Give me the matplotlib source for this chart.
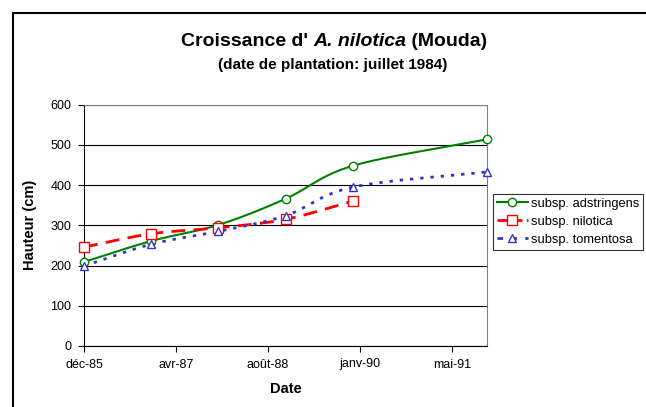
import datetime as dt
import numpy as np
import matplotlib
matplotlib.use("Agg")
import matplotlib.pyplot as plt
import matplotlib.dates as mdates
from matplotlib.patches import Rectangle

plt.rcParams['font.family'] = ['Liberation Sans', 'DejaVu Sans']

dates_adstr = ["1985-12-01", "1986-12-01", "1987-12-01", "1988-12-01", "1989-12-01", "1991-12-01"]
adstringens = [209, 261, 301, 366, 448, 514]

dates_nilo = ["1985-12-01", "1986-12-01", "1987-12-01", "1988-12-01", "1989-12-01"]
nilotica = [246, 279, 294, 315, 360]

dates_tomen = ["1985-12-01", "1986-12-01", "1987-12-01", "1988-12-01", "1989-12-01", "1991-12-01"]
tomentosa = [199, 253, 285, 324, 395, 433]

tick_labels = ["déc-85", "avr-87", "août-88", "janv-90", "mai-91"]
tick_step_days = 500


def to_num(ds):
    return mdates.date2num([dt.datetime.strptime(d, "%Y-%m-%d") for d in ds])


def smooth(x, y, n=30):
    # Catmull-Rom style smoothing like Excel's "smoothed line"
    x = np.asarray(x, float)
    y = np.asarray(y, float)
    px = np.concatenate([[2 * x[0] - x[1]], x, [2 * x[-1] - x[-2]]])
    py = np.concatenate([[2 * y[0] - y[1]], y, [2 * y[-1] - y[-2]]])
    xs, ys = [], []
    t = np.linspace(0, 1, n)
    for i in range(1, len(px) - 2):
        for p, out in ((px, xs), (py, ys)):
            p0, p1, p2, p3 = p[i - 1], p[i], p[i + 1], p[i + 2]
            out.extend(0.5 * ((2 * p1) + (-p0 + p2) * t
                              + (2 * p0 - 5 * p1 + 4 * p2 - p3) * t ** 2
                              + (-p0 + 3 * p1 - 3 * p2 + p3) * t ** 3))
    return np.array(xs), np.array(ys)


fig = plt.figure(figsize=(6.46, 4.07), dpi=100)
ax = fig.add_axes([84 / 646, 1 - 346 / 407, (487 - 84) / 646, (346 - 104.7) / 407])

series = [
    (dates_adstr, adstringens, "subsp. adstringens", "#008000", "-", "o", 6),
    (dates_nilo, nilotica, "subsp. nilotica", "#FF0000", "--", "s", 7),
    (dates_tomen, tomentosa, "subsp. tomentosa", "#3333CC", ":", "^", 6),
]
for ds, vals, lab, col, ls, mk, ms in series:
    xn = to_num(ds)
    sx, sy = smooth(xn, vals)
    lw = 1.5 if ls == "-" else 2
    line, = ax.plot(sx, sy, color=col, ls=ls, lw=lw, zorder=3, clip_on=False)
    if ls == "--":
        line.set_dashes([5, 3])
    if ls == ":":
        line.set_dashes([1.2, 2.5])
    ax.plot(xn, vals, ls="none", marker=mk, ms=ms, mfc="white", mec=col, mew=1,
            zorder=4, clip_on=False)
    # legend proxy
    h, = ax.plot([], [], color=col, ls=ls, lw=lw, marker=mk, ms=ms, mfc="white", mec=col,
                 mew=1, label=lab)
    if ls == ":":
        h.set_dashes([2, 3])

start = to_num(["1985-12-01"])[0]
end = to_num(["1991-12-01"])[0]
ax.set_xlim(start, end)
ax.set_xticks([start + tick_step_days * i for i in range(len(tick_labels))])
ax.set_xticklabels(tick_labels)
ax.set_ylim(0, 600)
ax.set_yticks(range(0, 601, 100))

ax.yaxis.grid(True, color="black", lw=0.8)
ax.set_axisbelow(True)
for s in ("top", "right"):
    ax.spines[s].set_color("#808080")
    ax.spines[s].set_linewidth(0.8)
for s in ("left", "bottom"):
    ax.spines[s].set_color("black")
    ax.spines[s].set_linewidth(0.8)
ax.tick_params(axis="both", direction="out", length=4, width=0.8, labelsize=9, pad=5)

ax.set_xlabel("Date", fontsize=10.5, fontweight="bold", labelpad=8)
ax.set_ylabel("Hauteur (cm)", fontsize=10.5, fontweight="bold", labelpad=10)

# title made of pieces so the species name can be italic
title_parts = [("Croissance d' ", "normal"), ("A. nilotica", "italic"), (" (Mouda)", "normal")]
renderer = fig.canvas.get_renderer()
texts = []
for s, st in title_parts:
    t = fig.text(0, 1 - 42 / 407, s, ha="left", va="center", fontsize=14,
                 fontweight="bold", fontstyle=st)
    texts.append(t)
widths = [t.get_window_extent(renderer).width for t in texts]
x0 = 334 - sum(widths) / 2
for t, w in zip(texts, widths):
    t.set_x(x0 / 646)
    x0 += w
fig.text(333 / 646, 1 - 65.5 / 407, "(date de plantation: juillet 1984)",
         ha="center", va="center", fontsize=11, fontweight="bold")

leg = fig.legend(loc="upper left", bbox_to_anchor=(493 / 646, 1 - 194 / 407),
                 fontsize=9.3, frameon=True, fancybox=False, borderpad=0.3,
                 handlelength=2.4, handletextpad=0.25, labelspacing=0.45,
                 borderaxespad=0)
leg.get_frame().set_edgecolor("black")
leg.get_frame().set_linewidth(0.8)

# outer chart frame (cropped at right/bottom)
fig.patches.append(Rectangle((13 / 646, -0.1), 1.2, 1 - 13 / 407 + 0.1,
                             transform=fig.transFigure, fill=False,
                             edgecolor="black", lw=1.5))

fig.savefig("out.png", dpi=100)
